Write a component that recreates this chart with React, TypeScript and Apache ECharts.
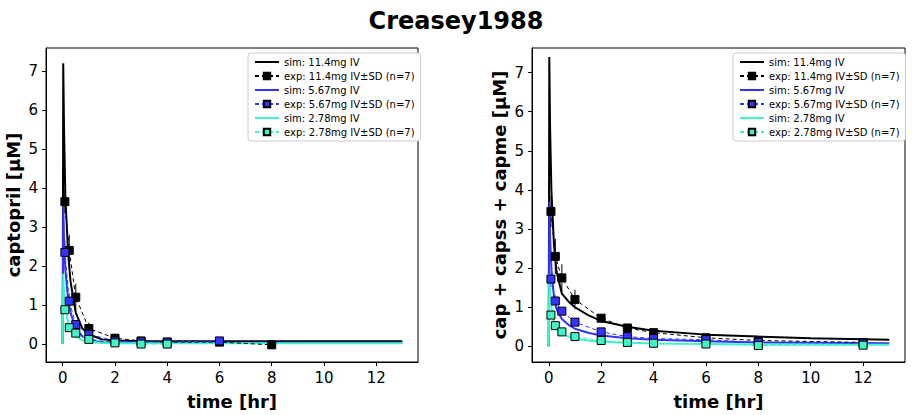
import React, { useEffect, useRef } from "react";
import * as echarts from "echarts";

const SIM_T = [0, 0.02, 0.05, 0.1, 0.2, 0.3, 0.5, 0.75, 1, 1.5, 2, 3, 4, 6, 8, 10, 13];
const SIM_L_114 = [0, 7.2, 5.5, 3.8, 2.4, 1.6, 0.8, 0.4, 0.25, 0.12, 0.09, 0.075, 0.07, 0.07, 0.07, 0.07, 0.07];
const SIM_L_567 = [0, 3.6, 2.7, 1.9, 1.2, 0.8, 0.4, 0.2, 0.12, 0.06, 0.045, 0.04, 0.035, 0.035, 0.035, 0.035, 0.035];
const SIM_L_278 = [0, 1.8, 1.35, 0.95, 0.6, 0.4, 0.2, 0.1, 0.06, 0.03, 0.02, 0.02, 0.02, 0.02, 0.02, 0.02, 0.02];
const SIM_R_114 = [0, 7.4, 5.6, 4.0, 2.6, 1.9, 1.35, 1.15, 1.0, 0.8, 0.65, 0.5, 0.4, 0.3, 0.25, 0.21, 0.17];
const SIM_R_567 = [0, 3.7, 2.8, 2.0, 1.25, 0.95, 0.7, 0.55, 0.45, 0.35, 0.28, 0.21, 0.17, 0.13, 0.1, 0.09, 0.08];
const SIM_R_278 = [0, 1.85, 1.4, 1.0, 0.62, 0.45, 0.32, 0.25, 0.2, 0.15, 0.12, 0.09, 0.07, 0.06, 0.05, 0.045, 0.04];

const EXP_T_L = [0.083, 0.25, 0.5, 1, 2, 3, 4, 6, 8];
const EXP_L_114 = [3.65, 2.4, 1.2, 0.4, 0.15, 0.08, 0.05, 0.05, -0.02];
const ERR_L_114 = [0.3, 0.4, 0.35, 0.15, 0.05, 0.04, 0.03, 0.05, 0.02];
const EXP_L_567 = [2.35, 1.1, 0.5, 0.25, 0.08, 0.06, 0.05, 0.08, null];
const ERR_L_567 = [0.3, 0.2, 0.1, 0.08, 0.03, 0.02, 0.02, 0.1, 0];
const EXP_L_278 = [0.88, 0.42, 0.28, 0.12, 0.03, 0.0, 0.0, null, null];
const ERR_L_278 = [0.1, 0.05, 0.04, 0.03, 0.02, 0.02, 0.02, 0, 0];

const EXP_T_R = [0.083, 0.25, 0.5, 1, 2, 3, 4, 6, 8, 12];
const EXP_R_114 = [3.45, 2.3, 1.75, 1.2, 0.72, 0.47, 0.35, 0.22, 0.15, 0.1];
const ERR_R_114 = [0.4, 0.45, 0.35, 0.25, 0.1, 0.08, 0.06, 0.05, 0.03, 0.03];
const EXP_R_567 = [1.72, 1.16, 0.9, 0.62, 0.37, 0.25, 0.2, 0.17, 0.1, 0.08];
const ERR_R_567 = [0.2, 0.15, 0.1, 0.08, 0.05, 0.04, 0.03, 0.03, 0.02, 0.02];
const EXP_R_278 = [0.8, 0.53, 0.37, 0.25, 0.15, 0.1, 0.08, 0.06, 0.02, 0.03];
const ERR_R_278 = [0.08, 0.05, 0.04, 0.03, 0.02, 0.02, 0.02, 0.02, 0.02, 0.02];

const NAMES = [
  "sim: 11.4mg IV",
  "exp: 11.4mg IV±SD (n=7)",
  "sim: 5.67mg IV",
  "exp: 5.67mg IV±SD (n=7)",
  "sim: 2.78mg IV",
  "exp: 2.78mg IV±SD (n=7)",
];
const COLORS = ["#000000", "#3333ff", "#3ff5c8"];

const App: React.FC = () => {
  const ref = useRef<HTMLDivElement | null>(null);

  useEffect(() => {
    if (!ref.current) return;
    const chart = echarts.init(ref.current, undefined, { renderer: "svg" });

    const grids = [
      { left: 46, top: 48, width: 372, height: 317, show: true, borderColor: "#000", borderWidth: 1 },
      { left: 532, top: 48, width: 373, height: 317, show: true, borderColor: "#000", borderWidth: 1 },
    ];
    const panels = [
      { sims: [SIM_L_114, SIM_L_567, SIM_L_278], t: EXP_T_L, exps: [EXP_L_114, EXP_L_567, EXP_L_278], errs: [ERR_L_114, ERR_L_567, ERR_L_278], ymin: -0.46, ymax: 7.59, yname: "captopril [μM]" },
      { sims: [SIM_R_114, SIM_R_567, SIM_R_278], t: EXP_T_R, exps: [EXP_R_114, EXP_R_567, EXP_R_278], errs: [ERR_R_114, ERR_R_567, ERR_R_278], ymin: -0.4, ymax: 7.63, yname: "cap + capss + capme [μM]" },
    ];

    const series: any[] = [];
    panels.forEach((p, gi) => {
      for (let k = 0; k < 3; k++) {
        const c = COLORS[k];
        series.push({
          name: NAMES[2 * k],
          type: "line",
          xAxisIndex: gi,
          yAxisIndex: gi,
          data: SIM_T.map((t, i) => [t, p.sims[k][i]]),
          showSymbol: false,
          symbol: "none",
          lineStyle: { color: c, width: 2 },
          itemStyle: { color: c },
          z: 2,
        });
        const pts = p.t.map((t, i) => [t, p.exps[k][i], p.errs[k][i]]).filter((d) => d[1] !== null);
        series.push({
          name: NAMES[2 * k + 1],
          type: "line",
          xAxisIndex: gi,
          yAxisIndex: gi,
          data: pts.map((d) => [d[0], d[1]]),
          symbol: "rect",
          symbolSize: 8,
          lineStyle: { color: c, width: 1, type: [4, 3] },
          itemStyle: { color: c, borderColor: "#000", borderWidth: 1 },
          z: 4,
        });
        series.push({
          type: "custom",
          xAxisIndex: gi,
          yAxisIndex: gi,
          data: pts,
          z: 3,
          renderItem: (params: any, api: any) => {
            const x = api.value(0);
            const y = api.value(1);
            const e = api.value(2);
            const a = api.coord([x, y - e]);
            const b = api.coord([x, y + e]);
            return {
              type: "line",
              shape: { x1: a[0], y1: a[1], x2: b[0], y2: b[1] },
              style: { stroke: c, lineWidth: 1 },
            };
          },
        });
      }
    });

    const axisCommon = {
      axisLine: { show: true, onZero: false, lineStyle: { color: "#000", width: 1 } },
      axisTick: { show: true, length: 4, lineStyle: { color: "#000" } },
      splitLine: { show: false },
      axisLabel: { color: "#000", fontSize: 15 },
      nameTextStyle: { color: "#000", fontSize: 18, fontWeight: "bold" },
      nameLocation: "middle",
    };

    const legendData = NAMES.map((n, i) =>
      i % 2 === 0 ? { name: n, itemStyle: { opacity: 0 } } : { name: n }
    );

    chart.setOption({
      animation: false,
      textStyle: { fontFamily: "DejaVu Sans" },
      title: {
        text: "Creasey1988",
        left: "center",
        top: 4,
        textStyle: { fontSize: 24, fontWeight: "bold", color: "#000", fontFamily: "DejaVu Sans" },
      },
      grid: grids,
      xAxis: grids.map((_, i) => ({
        ...axisCommon,
        gridIndex: i,
        type: "value",
        min: -0.64,
        max: 13.6,
        name: "time [hr]",
        nameGap: 30,
        axisLabel: { ...axisCommon.axisLabel, customValues: [0, 2, 4, 6, 8, 10, 12] },
        axisTick: { ...axisCommon.axisTick, customValues: [0, 2, 4, 6, 8, 10, 12] },
      })),
      yAxis: panels.map((p, i) => ({
        ...axisCommon,
        gridIndex: i,
        type: "value",
        min: p.ymin,
        max: p.ymax,
        name: p.yname,
        nameGap: 24,
        axisLabel: { ...axisCommon.axisLabel, customValues: [0, 1, 2, 3, 4, 5, 6, 7] },
        axisTick: { ...axisCommon.axisTick, customValues: [0, 1, 2, 3, 4, 5, 6, 7] },
      })),
      legend: [248, 733].map((left) => ({
        left,
        top: 53,
        orient: "vertical",
        data: legendData,
        itemWidth: 24,
        itemHeight: 8,
        itemGap: 4,
        padding: [4, 6],
        borderColor: "#ccc",
        borderWidth: 1,
        borderRadius: 3,
        backgroundColor: "#fff",
        textStyle: { fontSize: 10, color: "#000" },
      })),
      series,
    });

    return () => chart.dispose();
  }, []);

  return (
    <div
      ref={ref}
      style={{ position: "fixed", left: 0, top: 0, width: 912, height: 415, background: "#fff" }}
    />
  );
};

export default App;
